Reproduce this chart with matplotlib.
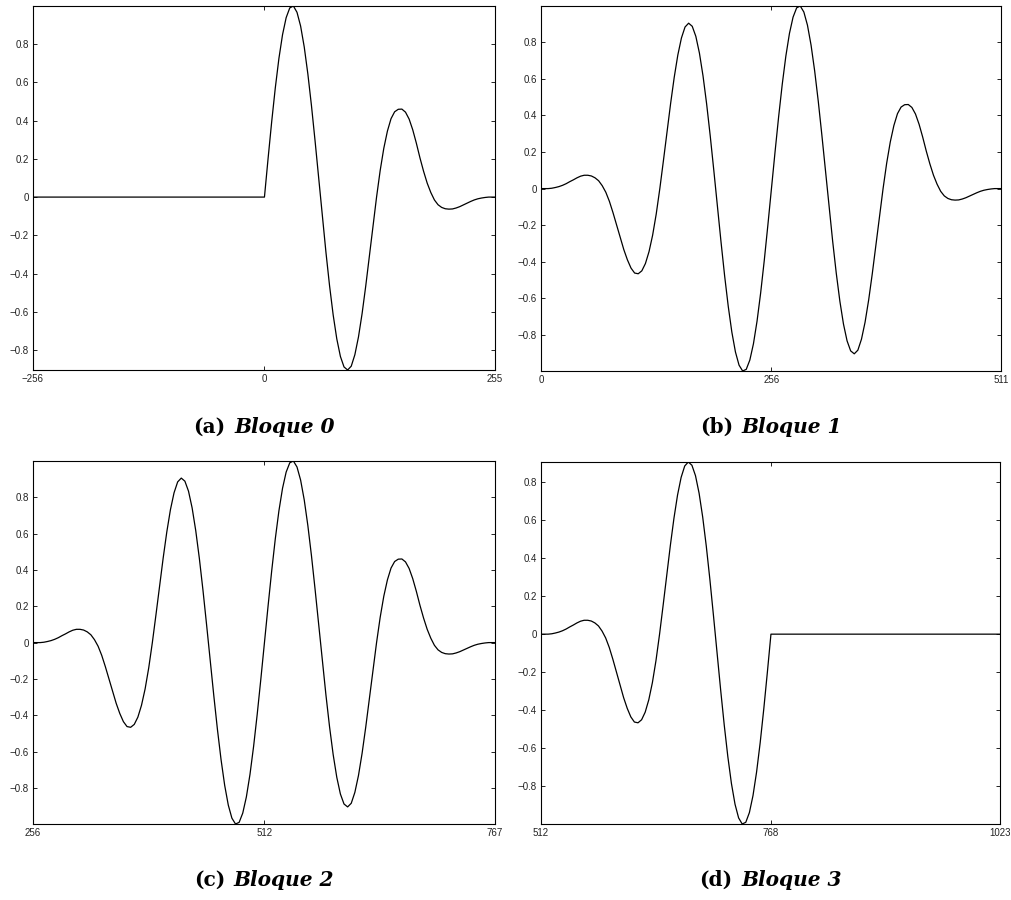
import numpy as np
import matplotlib
matplotlib.use("Agg")
import matplotlib.pyplot as plt
from matplotlib.ticker import FixedLocator, FuncFormatter

# windowed wave, one sample every 4 points over 0..512
wave_idx = np.arange(0, 513, 4)
wave = [
    0.000, 0.000, 0.000, 0.002, 0.006, 0.011, 0.018, 0.027,
    0.038, 0.048, 0.059, 0.068, 0.073, 0.073, 0.069, 0.059,
    0.043, 0.016, -0.020, -0.070, -0.132, -0.200, -0.270, -0.334,
    -0.390, -0.435, -0.462, -0.466, -0.450, -0.410, -0.345, -0.255,
    -0.139, 0.000, 0.153, 0.311, 0.466, 0.609, 0.731, 0.824,
    0.884, 0.905, 0.888, 0.833, 0.741, 0.616, 0.463, 0.288,
    0.098, -0.099, -0.293, -0.478, -0.644, -0.785, -0.894, -0.966,
    -0.998, -0.989, -0.938, -0.849, -0.725, -0.571, -0.394, -0.201,
    0.000, 0.201, 0.394, 0.571, 0.725, 0.849, 0.938, 0.989,
    0.999, 0.966, 0.894, 0.785, 0.644, 0.478, 0.293, 0.099,
    -0.098, -0.288, -0.463, -0.616, -0.741, -0.833, -0.888, -0.904,
    -0.884, -0.824, -0.731, -0.609, -0.466, -0.311, -0.153, 0.000,
    0.139, 0.255, 0.345, 0.410, 0.446, 0.459, 0.460, 0.444,
    0.408, 0.352, 0.282, 0.205, 0.135, 0.073, 0.024, -0.015,
    -0.040, -0.054, -0.061, -0.063, -0.062, -0.057, -0.050, -0.041,
    -0.032, -0.023, -0.015, -0.009, -0.005, -0.002, 0.000, 0.000,
    0.000,
]

block_tags = ["(a)", "(b)", "(c)", "(d)"]
block_names = ["Bloque 0", "Bloque 1", "Bloque 2", "Bloque 3"]
block_offsets = [-256, 0, 256, 512]
# halves of the wave kept in each block: (first, second)
block_halves = [(False, True), (True, True), (True, True), (True, False)]
block_xticks = [[-256, 0, 255], [0, 256, 511], [256, 512, 767], [512, 768, 1023]]
yticks = [-0.8, -0.6, -0.4, -0.2, 0, 0.2, 0.4, 0.6, 0.8]

W, H = 1011, 900
# axes boxes in pixels: left, top, right, bottom
boxes = [
    (33, 6, 495, 370),
    (541, 6, 1001, 371),
    (33, 461, 495, 824),
    (541, 462, 1000, 824),
]
caption_y = [427, 427, 880, 880]

fig = plt.figure(figsize=(W / 100, H / 100), dpi=100)
fig.patch.set_facecolor("white")

wave = np.asarray(wave)
first = wave_idx < 256

for i in range(4):
    l, t, r, b = boxes[i]
    ax = fig.add_axes([l / W, 1 - b / H, (r - l) / W, (b - t) / H])
    keep_first, keep_second = block_halves[i]
    mask = np.where(first, keep_first, keep_second)
    y = np.where(mask, wave, 0.0)
    x = wave_idx + block_offsets[i]
    ax.plot(x, y, color="black", lw=0.9)

    ticks = block_xticks[i]
    ax.set_xlim(ticks[0], ticks[-1])
    ax.set_ylim(y.min(), y.max())
    ax.xaxis.set_major_locator(FixedLocator(ticks))
    ax.yaxis.set_major_locator(FixedLocator(yticks))
    ax.yaxis.set_major_formatter(
        FuncFormatter(lambda v, p: f"{v:g}".replace("-", "\u2212")))
    ax.tick_params(direction="in", length=3, width=0.6, top=True, right=True,
                   labelsize=7, pad=3, colors="black")
    for lab in ax.get_xticklabels() + ax.get_yticklabels():
        lab.set_family("Liberation Sans")
        lab.set_color("#222222")
    for sp in ax.spines.values():
        sp.set_linewidth(0.8)

# captions: bold tag followed by bold italic block name
texts = []
for i in range(4):
    l, t, r, b = boxes[i]
    tag = fig.text(0, 1 - caption_y[i] / H, block_tags[i], family="DejaVu Serif",
                   fontweight="bold", fontsize=14.5, va="center", ha="left")
    name = fig.text(0, 1 - caption_y[i] / H, block_names[i], family="DejaVu Serif",
                    fontweight="bold", style="italic", fontsize=14.5,
                    va="center", ha="left")
    texts.append(((l + r) / 2, tag, name))

renderer = fig.canvas.get_renderer()
gap = 9
for cx, tag, name in texts:
    w1 = tag.get_window_extent(renderer).width
    w2 = name.get_window_extent(renderer).width
    x0 = cx - (w1 + gap + w2) / 2
    tag.set_x(x0 / W)
    name.set_x((x0 + w1 + gap) / W)

fig.savefig("out.png", dpi=100)
